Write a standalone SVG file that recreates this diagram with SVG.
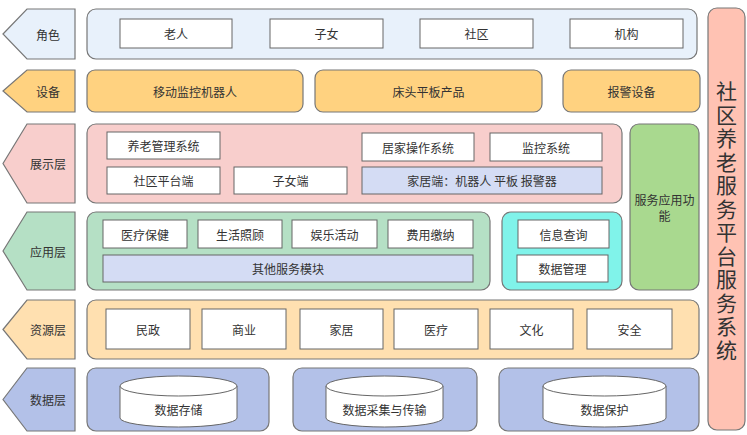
<svg xmlns="http://www.w3.org/2000/svg" width="747" height="435" viewBox="0 0 747 435">
<style>
text{font-family:"Noto Sans CJK SC","Noto Sans",sans-serif;font-size:12px;fill:#333;text-anchor:middle;dominant-baseline:central}
.p{stroke:#777;stroke-width:1.2}
.w{fill:#fff;stroke:#666;stroke-width:1}
.l{fill:#d4dcf4;stroke:#666;stroke-width:1}
.c1{fill:#e8f1fb}.c2{fill:#ffd280}.c3{fill:#f8cecc}.c4{fill:#b5e0c5}.c5{fill:#ffe0b0}.c6{fill:#b3c1e8}
.big{font-size:21px;writing-mode:vertical-rl;letter-spacing:2.5px}
</style>
<rect x="0" y="0" width="747" height="435" fill="#fff"/>
<g id="arrows">
<g id="a1"><polygon class="p c1" points="3,34 27,9 75,9 75,59 27,59"/><text x="48" y="34">角色</text></g>
<g id="a2"><polygon class="p c2" points="3,91 27,70 75,70 75,112 27,112"/><text x="48" y="91">设备</text></g>
<g id="a3"><polygon class="p c3" points="3,163.5 27,124 75,124 75,203 27,203"/><text x="48" y="163">展示层</text></g>
<g id="a4"><polygon class="p c4" points="3,251 27,212 75,212 75,290 27,290"/><text x="48" y="251">应用层</text></g>
<g id="a5"><polygon class="p c5" points="3,329.5 27,300 75,300 75,359 27,359"/><text x="48" y="329">资源层</text></g>
<g id="a6"><polygon class="p c6" points="3,399.5 27,368 75,368 75,431 27,431"/><text x="48" y="399">数据层</text></g>
</g>
<g id="role">
<rect class="p c1" x="87" y="9" width="610" height="50" rx="9"/>
<rect class="w" x="120" y="19" width="112" height="29"/><text x="176" y="33.5">老人</text>
<rect class="w" x="270" y="19" width="113" height="29"/><text x="326.5" y="33.5">子女</text>
<rect class="w" x="420" y="19" width="113" height="29"/><text x="476.5" y="33.5">社区</text>
<rect class="w" x="570" y="19" width="113" height="29"/><text x="626.5" y="33.5">机构</text>
</g>
<g id="device">
<rect class="p c2" x="87" y="70" width="216" height="42" rx="8"/><text x="195" y="91">移动监控机器人</text>
<rect class="p c2" x="315" y="70" width="227" height="42" rx="8"/><text x="428.5" y="91">床头平板产品</text>
<rect class="p c2" x="563" y="70" width="137" height="42" rx="8"/><text x="631.5" y="91">报警设备</text>
</g>
<g id="display">
<rect class="p c3" x="87" y="124" width="535" height="79" rx="9"/>
<rect class="w" x="107" y="132" width="113" height="27"/><text x="163.5" y="145.5">养老管理系统</text>
<rect class="w" x="107" y="167" width="113" height="27"/><text x="163.5" y="180.5">社区平台端</text>
<rect class="w" x="234" y="167" width="113" height="27"/><text x="290.5" y="180.5">子女端</text>
<rect class="w" x="362" y="133" width="112" height="28"/><text x="418" y="147">居家操作系统</text>
<rect class="w" x="490" y="133" width="112" height="28"/><text x="546" y="147">监控系统</text>
<rect class="l" x="362" y="167" width="240" height="27"/><text x="482" y="180.5">家居端：机器人 平板 报警器</text>
</g>
<g id="service">
<rect class="p" fill="#a9d98f" x="630" y="124" width="69" height="166" rx="9"/>
<text x="664.5" y="199">服务应用功</text><text x="664.5" y="215">能</text>
</g>
<g id="app">
<rect class="p c4" x="87" y="212" width="403" height="78" rx="9"/>
<rect class="w" x="103" y="220" width="84" height="28"/><text x="145" y="234">医疗保健</text>
<rect class="w" x="198" y="220" width="84" height="28"/><text x="240" y="234">生活照顾</text>
<rect class="w" x="292" y="220" width="85" height="28"/><text x="334.5" y="234">娱乐活动</text>
<rect class="w" x="388" y="220" width="85" height="28"/><text x="430.5" y="234">费用缴纳</text>
<rect class="l" x="103" y="255" width="370" height="27"/><text x="288" y="268.5">其他服务模块</text>
</g>
<g id="info">
<rect class="p" fill="#80f3ea" x="502" y="212" width="120" height="78" rx="9"/>
<rect class="w" x="518" y="220" width="91" height="28"/><text x="563.5" y="234">信息查询</text>
<rect class="w" x="517" y="255" width="91" height="27"/><text x="562.5" y="268.5">数据管理</text>
</g>
<g id="resource">
<rect class="p c5" x="87" y="300" width="612" height="59" rx="9"/>
<rect class="w" x="106" y="309" width="84" height="40"/><text x="148" y="329">民政</text>
<rect class="w" x="202" y="309" width="84" height="40"/><text x="244" y="329">商业</text>
<rect class="w" x="300" y="309" width="83" height="40"/><text x="341.5" y="329">家居</text>
<rect class="w" x="394" y="309" width="84" height="40"/><text x="436" y="329">医疗</text>
<rect class="w" x="490" y="309" width="83" height="40"/><text x="531.5" y="329">文化</text>
<rect class="w" x="587" y="309" width="85" height="40"/><text x="629.5" y="329">安全</text>
</g>
<g id="data">
<rect class="p c6" x="87" y="368" width="182" height="63" rx="9"/>
<rect class="p c6" x="293" y="368" width="184" height="63" rx="9"/>
<rect class="p c6" x="499" y="368" width="200" height="63" rx="9"/>
<g id="db1"><path class="w" d="M120,386 L120,418 A58.5,9 0 0 0 237,418 L237,386"/><ellipse class="w" cx="178.5" cy="386" rx="58.5" ry="10"/><text x="178.5" y="409">数据存储</text></g>
<g id="db2"><path class="w" d="M326,386 L326,418 A58.5,9 0 0 0 443,418 L443,386"/><ellipse class="w" cx="384.5" cy="386" rx="58.5" ry="10"/><text x="384.5" y="409">数据采集与传输</text></g>
<g id="db3"><path class="w" d="M543,386 L543,418 A61.5,9 0 0 0 666,418 L666,386"/><ellipse class="w" cx="604.5" cy="386" rx="61.5" ry="10"/><text x="604.5" y="409">数据保护</text></g>
</g>
<g id="platform">
<rect class="p" fill="#ffc2b3" x="708" y="8" width="37" height="422" rx="9"/>
<text class="big" x="726.5" y="222">社区养老服务平台服务系统</text>
</g>
<g id="connectors"/>
</svg>
